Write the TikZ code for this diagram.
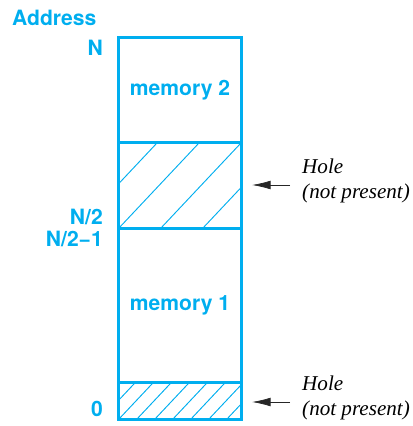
\documentclass[tikz,border=0pt]{standalone}
\usepackage{fontspec}
\usepackage{tikz}
\usetikzlibrary{positioning,arrows.meta}
\newfontfamily\addrfont{TeX Gyre Heros}
\newfontfamily\notefont{Liberation Serif}
\definecolor{addrblue}{HTML}{00AEEF}

\begin{document}
\begin{tikzpicture}[
    x=0.03cm, y=-0.03cm,
    block/.style={rectangle, draw=addrblue, line width=2.2pt, minimum width=3.69cm, inner sep=0pt, outer sep=0pt, text=addrblue, font=\addrfont\bfseries\fontsize{18}{21}\selectfont},
    hatched/.style={path picture={
        \foreach \k in {-8,...,10}
            \draw[addrblue, line width=0.8pt] ([xshift=\k*#1]path picture bounding box.south west) -- ++(4cm,4.25cm);
    }},
    addr/.style={anchor=east, inner sep=0pt, text=addrblue, font=\addrfont\bfseries\fontsize{18}{21}\selectfont},
    holenote/.style={anchor=west, inner sep=0pt, align=left, font=\notefont\itshape\fontsize{18}{21.5}\selectfont},
    arrow/.style={-{Latex[length=0.55cm, width=0.26cm]}, line width=0.6pt, black!85, shorten >=0.32cm}
]
\useasboundingbox (0,0) rectangle (412,426);

% Memory column, top to bottom
\node[block, minimum height=3.15cm, anchor=north west] (mem2) at (118.5,37.5) {memory 2};
\node[block, minimum height=2.58cm, hatched=1.26cm, below=0pt of mem2] (hole2) {};
\node[block, minimum height=4.62cm, below=0pt of hole2] (mem1) {memory 1};
\node[block, minimum height=1.11cm, hatched=0.54cm, below=0pt of mem1] (hole0) {};

% Address labels
\node[addr, anchor=west] (addr) at (12,18) {Address};
\node[addr] (aN) at (103,48) {N};
\node[addr] (aN2) at (103,217) {N/2};
\node[addr] (aN21) at (103,239) {N/2−1};
\node[addr] (a0) at (103,409) {0};

% Hole notes
\node[holenote] (note2) at (302,181) {Hole\\(not present)};
\node[holenote] (note0) at (302,398) {Hole\\(not present)};

\coordinate (tail2) at (290,185);
\coordinate (tail0) at (290,402);
\draw[arrow] (tail2) -- (tail2 -| hole2.east);
\draw[arrow] (tail0) -- (tail0 -| hole0.east);

\end{tikzpicture}
\end{document}
